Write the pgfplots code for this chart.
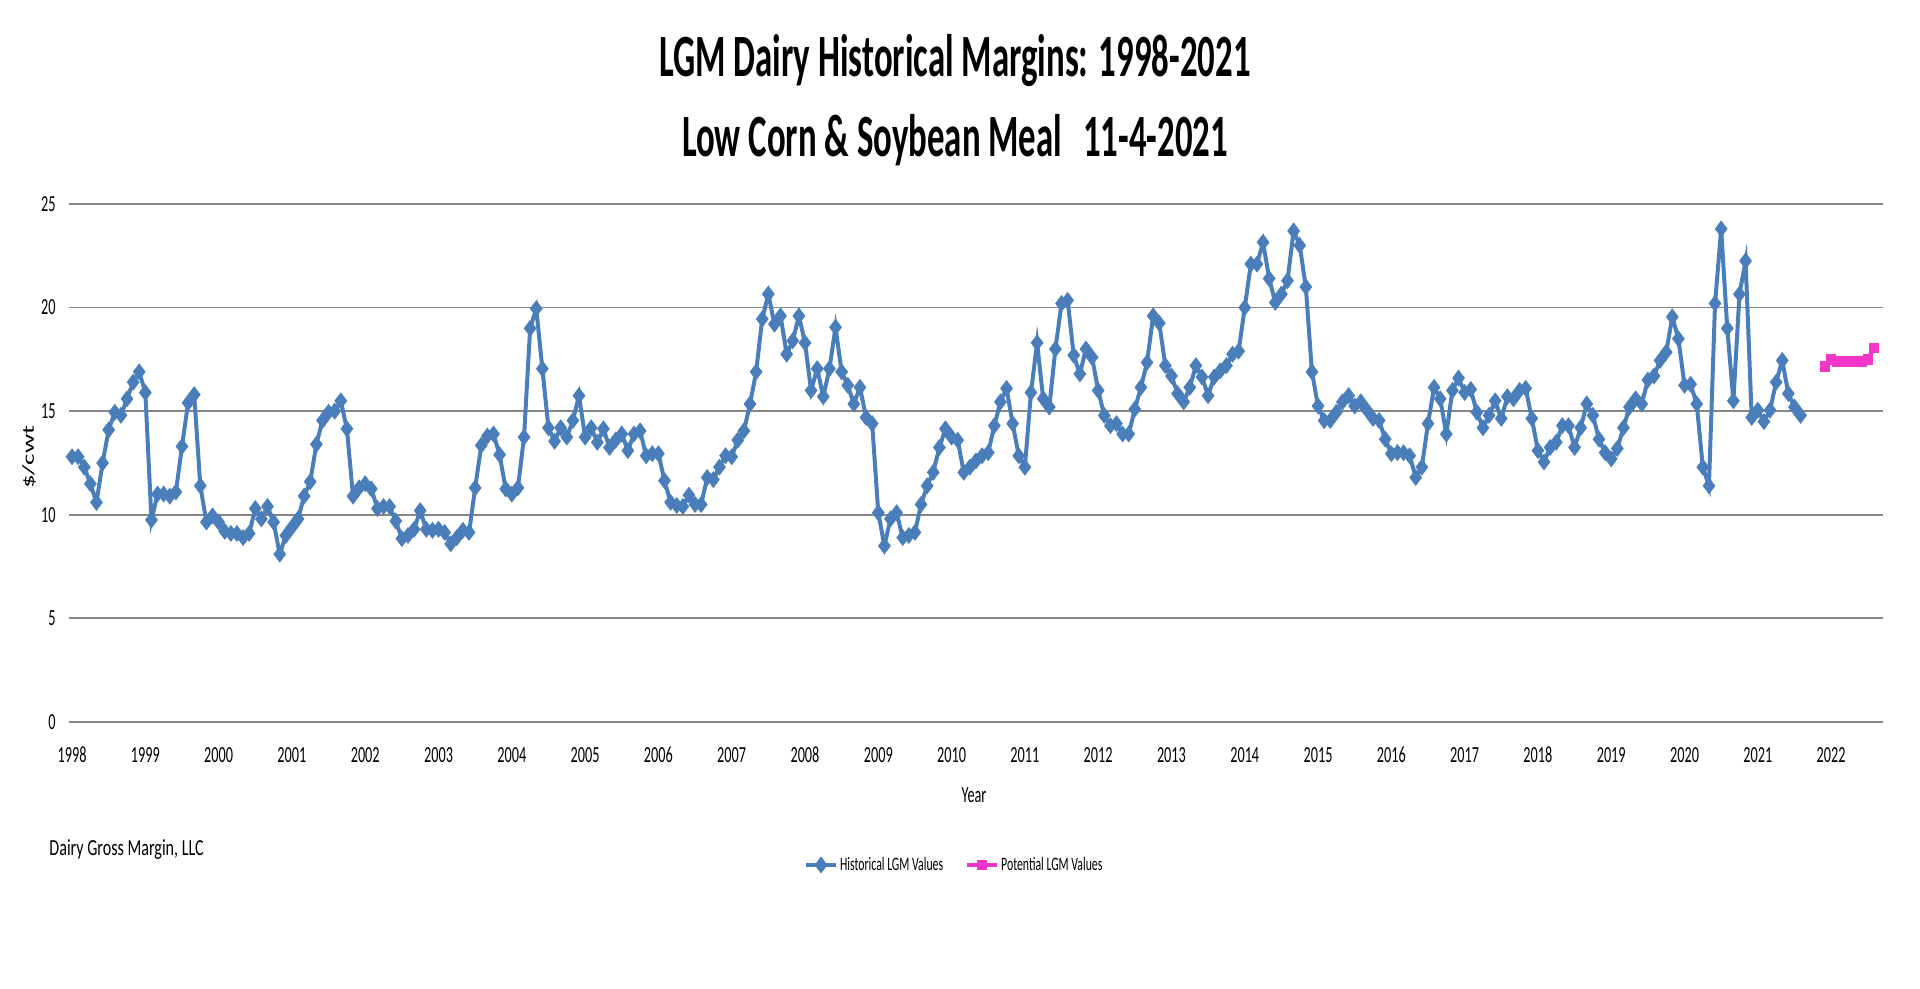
\documentclass[border=0pt]{standalone}
\usepackage{fontspec}
\setmainfont{Carlito}[FakeStretch=0.62]
\newfontfamily\titlefont{Carlito}[FakeStretch=0.58]
\newfontfamily\footfont{Carlito}[FakeStretch=0.7]
\newfontfamily\plainfont{Carlito}
\usepackage{graphicx}
\usepackage{pgfplots}
\pgfplotsset{compat=1.18}
\definecolor{histblue}{RGB}{74,126,187}
\definecolor{potpink}{RGB}{240,55,200}
\definecolor{gridgray}{RGB}{134,134,134}
\begin{document}
\begin{tikzpicture}
\useasboundingbox (0,0) rectangle (960pt,494.5pt);
\begin{axis}[
  at={(34.5pt,133.5pt)}, anchor=south west,
  scale only axis, width=907pt, height=259pt,
  xmin=-0.5, xmax=296.5, ymin=0, ymax=25,
  xtick={0,12,24,36,48,60,72,84,96,108,120,132,144,156,168,180,192,204,216,228,240,252,264,276,288},
  xticklabels={1998,1999,2000,2001,2002,2003,2004,2005,2006,2007,2008,2009,2010,2011,2012,2013,2014,2015,2016,2017,2018,2019,2020,2021,2022},
  ytick={0,5,10,15,20,25},
  ymajorgrids,
  major grid style={gridgray, line width=0.9pt},
  axis line style={draw=none},
  major tick style={draw=none},
  tick label style={font=\fontsize{11.5}{13}\selectfont},
  yticklabel style={anchor=east, inner sep=0pt, xshift=-6.5pt},
  xticklabel style={anchor=base, inner sep=0pt, yshift=-20.5pt},
  /pgf/number format/assume math mode=true,
  legend columns=2,
  legend style={at={(axis description cs:0.488,-0.276)}, anchor=center, draw=none, fill=none,
    font=\fontsize{9.5}{11}\selectfont, nodes={inner sep=1pt},
    /tikz/every even column/.append style={column sep=10pt}},
  legend image code/.code={\draw[mark repeat=2, mark phase=2, #1] plot coordinates {(0pt,0pt) (7.5pt,0pt) (15pt,0pt)};},
]
\addplot[histblue, line width=2pt, mark=diamond*, mark size=2.6pt, mark options={solid, fill=histblue}] coordinates {
(0,12.8)(1,12.8)(2,12.3)(3,11.5)(4,10.6)(5,12.5)(6,14.1)(7,14.95)(8,14.8)(9,15.6)
(10,16.4)(11,16.9)(12,15.9)(13,9.75)(14,11.0)(15,11.0)(16,10.9)(17,11.1)(18,13.3)(19,15.4)
(20,15.8)(21,11.4)(22,9.65)(23,9.95)(24,9.65)(25,9.2)(26,9.1)(27,9.1)(28,8.9)(29,9.1)
(30,10.3)(31,9.8)(32,10.4)(33,9.65)(34,8.1)(35,9.0)(36,9.4)(37,9.8)(38,10.9)(39,11.6)
(40,13.4)(41,14.55)(42,14.95)(43,15.0)(44,15.5)(45,14.15)(46,10.9)(47,11.3)(48,11.5)(49,11.25)
(50,10.3)(51,10.4)(52,10.4)(53,9.7)(54,8.85)(55,9.0)(56,9.3)(57,10.2)(58,9.3)(59,9.25)
(60,9.3)(61,9.15)(62,8.6)(63,8.9)(64,9.25)(65,9.15)(66,11.3)(67,13.35)(68,13.8)(69,13.9)
(70,12.9)(71,11.25)(72,11.0)(73,11.3)(74,13.75)(75,19.0)(76,19.95)(77,17.05)(78,14.2)(79,13.55)
(80,14.2)(81,13.75)(82,14.55)(83,15.75)(84,13.75)(85,14.2)(86,13.5)(87,14.15)(88,13.25)(89,13.6)
(90,13.9)(91,13.1)(92,13.9)(93,14.05)(94,12.85)(95,12.95)(96,12.95)(97,11.65)(98,10.6)(99,10.45)
(100,10.4)(101,10.95)(102,10.5)(103,10.5)(104,11.8)(105,11.7)(106,12.3)(107,12.85)(108,12.8)(109,13.6)
(110,14.05)(111,15.35)(112,16.9)(113,19.45)(114,20.65)(115,19.2)(116,19.6)(117,17.75)(118,18.4)(119,19.6)
(120,18.3)(121,16.0)(122,17.05)(123,15.7)(124,17.05)(125,19.05)(126,16.9)(127,16.25)(128,15.35)(129,16.15)
(130,14.7)(131,14.4)(132,10.1)(133,8.5)(134,9.8)(135,10.1)(136,8.9)(137,9.0)(138,9.15)(139,10.5)
(140,11.4)(141,12.05)(142,13.25)(143,14.15)(144,13.75)(145,13.6)(146,12.05)(147,12.3)(148,12.6)(149,12.85)
(150,13.0)(151,14.3)(152,15.45)(153,16.1)(154,14.4)(155,12.85)(156,12.3)(157,15.9)(158,18.3)(159,15.6)
(160,15.2)(161,18.0)(162,20.2)(163,20.35)(164,17.7)(165,16.8)(166,18.0)(167,17.6)(168,16.0)(169,14.8)
(170,14.3)(171,14.4)(172,13.9)(173,13.9)(174,15.1)(175,16.15)(176,17.35)(177,19.6)(178,19.25)(179,17.2)
(180,16.7)(181,15.85)(182,15.45)(183,16.15)(184,17.2)(185,16.65)(186,15.75)(187,16.65)(188,16.95)(189,17.2)
(190,17.75)(191,17.9)(192,20.0)(193,22.1)(194,22.1)(195,23.15)(196,21.4)(197,20.25)(198,20.65)(199,21.3)
(200,23.7)(201,23.0)(202,21.0)(203,16.9)(204,15.25)(205,14.55)(206,14.55)(207,14.95)(208,15.45)(209,15.75)
(210,15.25)(211,15.45)(212,15.05)(213,14.65)(214,14.55)(215,13.65)(216,12.95)(217,13.0)(218,13.0)(219,12.85)
(220,11.8)(221,12.3)(222,14.4)(223,16.15)(224,15.6)(225,13.9)(226,16.0)(227,16.6)(228,15.9)(229,16.05)
(230,14.95)(231,14.2)(232,14.8)(233,15.5)(234,14.65)(235,15.7)(236,15.6)(237,16.0)(238,16.1)(239,14.65)
(240,13.1)(241,12.55)(242,13.25)(243,13.5)(244,14.3)(245,14.3)(246,13.25)(247,14.2)(248,15.35)(249,14.8)
(250,13.65)(251,13.0)(252,12.7)(253,13.2)(254,14.2)(255,15.2)(256,15.6)(257,15.35)(258,16.5)(259,16.7)
(260,17.45)(261,17.85)(262,19.55)(263,18.5)(264,16.25)(265,16.3)(266,15.35)(267,12.3)(268,11.4)(269,20.2)
(270,23.8)(271,19.0)(272,15.5)(273,20.65)(274,22.25)(275,14.7)(276,15.05)(277,14.5)(278,15.05)(279,16.4)
(280,17.45)(281,15.85)(282,15.2)(283,14.8)
};
\addlegendentry{Historical LGM Values}
\addplot[potpink, line width=2pt, mark=square*, mark size=1.6pt, mark options={solid, fill=potpink}] coordinates {
(287,17.15)(288,17.5)(289,17.4)(290,17.4)(291,17.4)(292,17.4)(293,17.4)(294,17.5)(295,18.05)
};
\addlegendentry{Potential LGM Values}
\end{axis}
\node[anchor=base, font=\titlefont\bfseries\fontsize{30}{36}\selectfont] at (477.5pt,456pt) {LGM Dairy Historical Margins: 1998-2021};
\node[anchor=base, font=\titlefont\bfseries\fontsize{30}{36}\selectfont] at (477.5pt,416pt) {Low Corn \& Soybean Meal\hspace{0.35em}11-4-2021};
\node[rotate=90, inner sep=0pt] at (14.5pt,266pt) {\scalebox{1}[0.62]{\plainfont\fontsize{13.5}{16}\selectfont \$/cwt}};
\node[anchor=base, inner sep=0pt, font=\fontsize{11.5}{13}\selectfont] at (487pt,93.2pt) {Year};
\node[anchor=base west, inner sep=0pt, font=\footfont\fontsize{11.5}{14}\selectfont] at (24.5pt,66.5pt) {Dairy Gross Margin, LLC};
\end{tikzpicture}
\end{document}
